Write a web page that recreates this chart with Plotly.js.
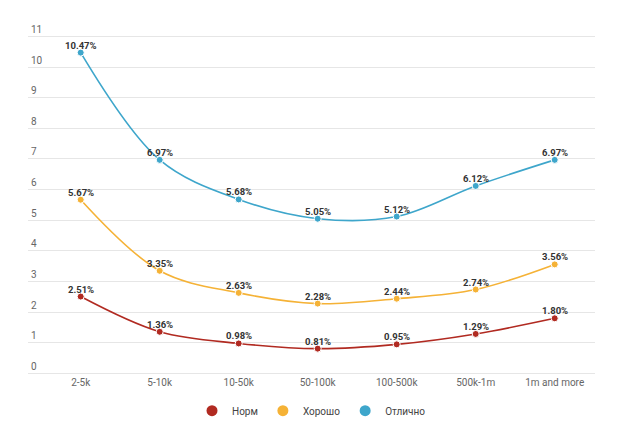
<!DOCTYPE html>
<html>
<head>
<meta charset="utf-8">
<script src="https://cdn.plot.ly/plotly-3.0.1.min.js"></script>
<style>html,body{margin:0;padding:0;background:#fff;}#chart{width:620px;height:433px;}</style>
</head>
<body>
<div id="chart"></div>
<script>
const categories = ["2-5k", "5-10k", "10-50k", "50-100k", "100-500k", "500k-1m", "1m and more"];
const seriesNames = ["Норм", "Хорошо", "Отлично"];
const norm = [2.51, 1.36, 0.98, 0.81, 0.95, 1.29, 1.80];
const good = [5.67, 3.35, 2.63, 2.28, 2.44, 2.74, 3.56];
const excellent = [10.47, 6.97, 5.68, 5.05, 5.12, 6.12, 6.97];
const colors = ["#b12a21", "#f5b236", "#3ea6cb"];
const yTicks = [0,1,2,3,4,5,6,7,8,9,10,11];

const allSeries = [norm, good, excellent];
const traces = allSeries.map((vals, i) => ({
  type: "scatter",
  mode: "lines+markers",
  name: seriesNames[i],
  legendgroup: seriesNames[i],
  showlegend: false,
  x: categories,
  y: vals,
  line: {color: colors[i], width: 1.6, shape: "spline", smoothing: 1},
  marker: {color: colors[i], size: 7, line: {color: "#fff", width: 1}},
  cliponaxis: false,
  hoverinfo: "none"
}));
// legend entries (circle symbols only)
seriesNames.forEach((n, i) => traces.push({
  type: "scatter", mode: "markers", name: n, legendgroup: n,
  x: [null], y: [null],
  marker: {color: colors[i], size: 11, symbol: "circle"},
  hoverinfo: "none"
}));

// value labels
const annotations = [];
allSeries.forEach(vals => vals.forEach((v, j) => annotations.push({
  x: categories[j], y: v, xref: "x", yref: "y",
  text: v.toFixed(2) + "%", showarrow: false,
  yanchor: "bottom", yshift: 0,
  font: {family: "Roboto", size: 9.5, color: "#333", weight: 700}
})));

const layout = {
  width: 620, height: 433,
  margin: {l: 28, r: 25, t: 18, b: 58, autoexpand: false},
  paper_bgcolor: "#fff", plot_bgcolor: "#fff",
  font: {family: "Roboto", size: 10, color: "#666"},
  showlegend: true,
  annotations: annotations,
  legend: {orientation: "h", x: 0.5, xanchor: "center", y: -0.1, yanchor: "middle",
           font: {family: "Roboto", size: 10, color: "#444"}, itemsizing: "trace",
           itemwidth: 30},
  xaxis: {type: "category", range: [-0.667, 6.51], showgrid: false, zeroline: false,
          showline: false, ticks: "", tickfont: {family: "Roboto", size: 10, color: "#666"}},
  yaxis: {range: [-0.05, 11.6], tickvals: yTicks, ticktext: yTicks.map(String),
          showgrid: true, gridcolor: "#e6e6e6", gridwidth: 1, zeroline: false,
          showline: false, ticks: "", ticklabelposition: "inside top",
          tickfont: {family: "Roboto", size: 10, color: "#666"}}
};

Plotly.newPlot("chart", traces, layout, {displayModeBar: false, staticPlot: true});
</script>
</body>
</html>
